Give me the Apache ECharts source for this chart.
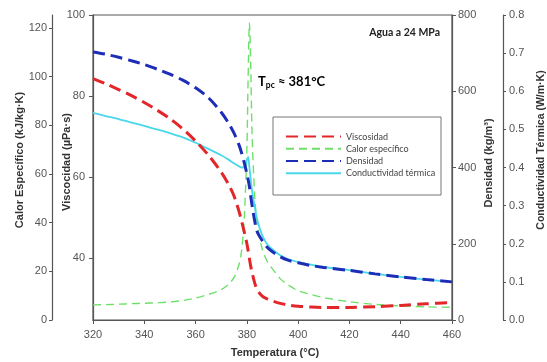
<!DOCTYPE html>
<html>
<head>
<meta charset="utf-8">
<script src="https://cdn.jsdelivr.net/npm/echarts@6/dist/echarts.min.js"></script>
<style>html,body{margin:0;padding:0;background:#fff}#c{width:547px;height:362px}</style>
</head>
<body>
<div id="c"></div>
<script>
// Temperature (°C)
const temps = [320,325,330,335,340,345,350,355,360,365,370,373,375,377,378,379,380,380.5,381,381.5,382,383,384,386,388,390,393,396,400,405,410,420,430,440,450,460];
// Viscosidad (µPa·s)
const viscosidad = [84.3,83.0,81.6,80.1,78.4,76.5,74.4,71.9,68.9,65.4,61.2,58.0,55.3,51.4,49.0,46.4,43.6,41.8,39.8,38.0,36.5,34.0,32.2,30.6,29.9,29.4,28.8,28.4,28.1,27.9,27.8,27.8,28.0,28.3,28.7,29.0];
// Calor específico (kJ/kg·K)
const calorEspecifico = [6.2,6.3,6.5,6.7,6.9,7.1,7.4,8.0,9.0,10.5,12.5,14.8,17.5,23,29,42,70,100,122,105,78,52,40,29,24,21,17,14.5,12,10.5,9.2,7.5,6.4,5.8,5.4,5.2];
// Densidad (kg/m³)
const densidad = [703,697,689,680,670,658,645,629,609,583,545,515,490,458,437,412,384,368,350,325,302,262,232,208,190,179,166,157,150,143,138,130,121,113,106,100];
// Conductividad térmica (W/m·K)
const conductividad = [0.543,0.535,0.527,0.518,0.509,0.500,0.490,0.479,0.465,0.449,0.432,0.420,0.411,0.403,0.400,0.401,0.420,0.428,0.400,0.370,0.340,0.300,0.265,0.222,0.198,0.185,0.170,0.160,0.152,0.145,0.139,0.131,0.121,0.113,0.106,0.100];

// Tick labels
const xTicks = [320,340,360,380,400,420,440,460];
const viscTicks = [40,60,80,100];
const cpTicks = [0,20,40,60,80,100,120];
const densTicks = [0,200,400,600,800];
const condTicks = [0,0.1,0.2,0.3,0.4,0.5,0.6,0.7,0.8];

const pair = arr => temps.map((t,i)=>[t,arr[i]]);
const AX = '#555';
const lbl = {color:'#555', fontSize:11, fontFamily:'Liberation Sans, Arial'};

function yAx(o){
  return Object.assign({
    type:'value', splitLine:{show:false},
    axisLine:{show:true, lineStyle:{color:AX, width:1.2}},
    axisTick:{show:true, length:4, lineStyle:{color:AX}},
  }, o);
}

const chart = echarts.init(document.getElementById('c'), null, {renderer:'canvas'});
chart.setOption({
  animation:false,
  backgroundColor:'#fff',
  grid:{left:93, right:95, top:15, bottom:42, show:true, borderColor:AX, borderWidth:1.2},
  xAxis:{type:'value', min:320, max:460, interval:20,
    axisLine:{show:true, lineStyle:{color:AX, width:1.2}},
    axisTick:{show:true, length:4, lineStyle:{color:AX}, customValues:xTicks},
    axisLabel:Object.assign({margin:9, customValues:xTicks}, lbl),
    splitLine:{show:false}},
  yAxis:[
    yAx({position:'left', offset:0, min:24.7, max:100,
      axisTick:{show:true,length:4,lineStyle:{color:AX},customValues:viscTicks},
      axisLabel:Object.assign({margin:8, customValues:viscTicks}, lbl)}),
    yAx({position:'left', offset:41, min:0, max:125.3,
      axisTick:{show:true,length:3,lineStyle:{color:AX},customValues:cpTicks},
      axisLabel:Object.assign({margin:5, customValues:cpTicks}, lbl)}),
    yAx({position:'right', offset:0, min:0, max:800, interval:200,
      axisTick:{show:true,length:4,lineStyle:{color:AX},customValues:densTicks},
      axisLabel:Object.assign({margin:6, customValues:densTicks}, lbl)}),
    yAx({position:'right', offset:51, min:0, max:0.8, interval:0.1,
      axisTick:{show:true,length:3,lineStyle:{color:AX},customValues:condTicks},
      axisLabel:Object.assign({margin:6, customValues:condTicks, formatter:v=>Number(v).toFixed(1)}, lbl)})
  ],
  legend:{
    orient:'vertical', left:280, top:126, itemWidth:55, itemHeight:14, itemGap:1,
    itemStyle:{opacity:0},
    textStyle:{color:'#444', fontSize:9, fontFamily:'Lato'},
    data:['Viscosidad','Calor específico','Densidad','Conductividad térmica']
  },
  series:[
    {name:'Viscosidad', type:'line', yAxisIndex:0, data:pair(viscosidad), symbol:'none', smooth:0.3, z:4,
      lineStyle:{color:'#E3262A', width:3, type:[12,6]}, itemStyle:{color:'#E3262A'}},
    {name:'Calor específico', type:'line', yAxisIndex:1, data:pair(calorEspecifico), symbol:'none', smooth:0.3, z:2,
      lineStyle:{color:'#6EE06A', width:1.4, type:[8,5]}, itemStyle:{color:'#6EE06A'}},
    {name:'Densidad', type:'line', yAxisIndex:2, data:pair(densidad), symbol:'none', smooth:0.3, z:5,
      lineStyle:{color:'#1E2DB8', width:3, type:[12,6]}, itemStyle:{color:'#1E2DB8'}},
    {name:'Conductividad térmica', type:'line', yAxisIndex:3, data:pair(conductividad), symbol:'none', smooth:0.3, z:3,
      lineStyle:{color:'#48D8EA', width:1.8}, itemStyle:{color:'#48D8EA'}}
  ],
  graphic:[
    {type:'rect', shape:{x:273, y:117, width:168, height:78}, style:{fill:'none', stroke:'#777', lineWidth:1}, z:10},
    {type:'text', x:20, y:160, rotation:Math.PI/2, style:{text:'Calor Específico (kJ/kg·K)', font:'bold 11px "Liberation Sans", Arial', fill:'#333', textAlign:'center', textVerticalAlign:'middle'}},
    {type:'text', x:67, y:162, rotation:Math.PI/2, style:{text:'Viscocidad (µPa·s)', font:'bold 11px "Liberation Sans", Arial', fill:'#333', textAlign:'center', textVerticalAlign:'middle'}},
    {type:'text', x:489, y:163, rotation:Math.PI/2, style:{text:'Densidad (kg/m³)', font:'bold 11px "Liberation Sans", Arial', fill:'#333', textAlign:'center', textVerticalAlign:'middle'}},
    {type:'text', x:541, y:150, rotation:Math.PI/2, style:{text:'Conductividad Térmica (W/m·K)', font:'bold 10.5px "Liberation Sans", Arial', fill:'#333', textAlign:'center', textVerticalAlign:'middle'}},
    {type:'text', x:275, y:353, style:{text:'Temperatura (°C)', font:'bold 11px "Liberation Sans", Arial', fill:'#333', textAlign:'center', textVerticalAlign:'middle'}},
    {type:'text', x:440, y:33, style:{text:'Agua a 24 MPa', font:'bold 10.5px Lato', fill:'#222', textAlign:'right', textVerticalAlign:'middle'}},
    {type:'text', x:258, y:82, style:{
      text:'{a|T}{b|pc}{a| ≈ 381°C}', textVerticalAlign:'middle',
      rich:{a:{fontFamily:'Lato', fontWeight:'bold', fontSize:13, color:'#222'},
            b:{fontFamily:'Lato', fontWeight:'bold', fontSize:8.5, color:'#222', padding:[6,0,0,0]}}}}
  ]
});
</script>
</body>
</html>
